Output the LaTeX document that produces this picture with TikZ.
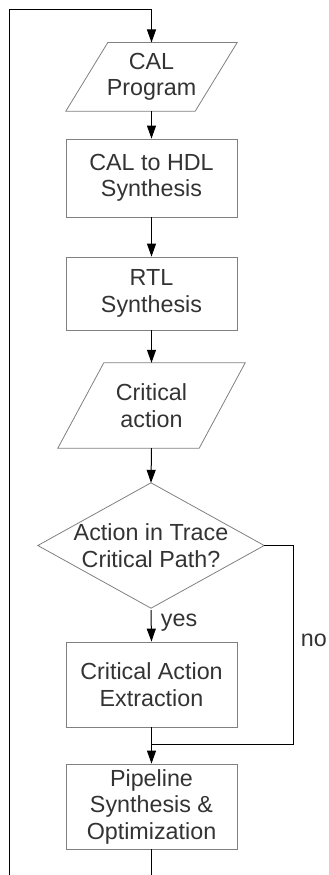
\documentclass[tikz,border=0pt]{standalone}
\usepackage{fontspec}
\setmainfont{Liberation Sans}
\usetikzlibrary{arrows.meta,calc}
\definecolor{ink}{HTML}{333333}
\definecolor{frame}{HTML}{808080}
\tikzset{
  x=1pt, y=-1pt,
  label text/.style={text=ink, font=\fontsize{23.3}{26.5}\selectfont},
  stepbox/.style={label text, draw=frame, line width=0.8pt, align=center,
                  minimum width=171pt, inner sep=0pt},
  ghost/.style={label text, align=center, inner sep=0pt},
  outline/.style={draw=frame, line width=0.8pt},
  flow/.style={draw=black, line width=1pt},
  flowarrow/.style={flow, -{Triangle[length=13pt,width=9pt]}},
}
\begin{document}
\begin{tikzpicture}
\useasboundingbox (0,0) rectangle (329,875);

% --- process steps ---
\node[ghost, minimum width=171pt, minimum height=68.3pt] (cal) at (151.5,76.85) {CAL\\Program};
\node[stepbox, minimum height=78pt] (hdl) at (151.5,178) {CAL to HDL\\Synthesis};
\node[stepbox, minimum height=73pt] (rtl) at (151.5,293.5) {RTL\\Synthesis};
\node[ghost, minimum width=187pt, minimum height=85pt] (crit) at (151.5,405.5) {Critical\\action};
\node[ghost, minimum width=226pt, minimum height=125pt] (dec) at (151,545.5) {Action in Trace\\Critical Path?};
\node[stepbox, minimum height=85pt] (cae) at (151.5,684.5) {Critical Action\\Extraction};
\node[stepbox, minimum height=85pt] (pipe) at (151.5,806.5) {Pipeline\\Synthesis \&\\Optimization};

% --- input/output parallelograms and decision diamond ---
\draw[outline] ($(cal.north west)+(42,0)$) -- (cal.north east)
  -- ($(cal.south east)+(-42,0)$) -- (cal.south west) -- cycle;
\draw[outline] ($(crit.north west)+(46,0)$) -- (crit.north east)
  -- ($(crit.south east)+(-46,0)$) -- (crit.south west) -- cycle;
\draw[outline] (dec.north) -- (dec.east) -- (dec.south) -- (dec.west) -- cycle;

% --- branch labels ---
\node[label text, anchor=base west, inner sep=0pt] (yes) at (160.7,626) {yes};
\node[label text, anchor=base west, inner sep=0pt] (no) at (300.7,646.7) {no};

% --- routing points ---
\coordinate (join) at (151.5,744);
\coordinate (nocorner) at (293.3,744);
\coordinate (loopbottom) at (151.5,875);
\coordinate (leftbottom) at (9,875);
\coordinate (lefttop) at (9,10);
\coordinate (looptop) at (151.5,10);

% --- connectors ---
\draw[flowarrow] (cal) -- (hdl);
\draw[flowarrow] (hdl) -- (rtl);
\draw[flowarrow] (rtl) -- (crit.north);
\draw[flowarrow] (crit.south) -- (dec.north);
\draw[flowarrow] ($(dec.south)+(0,2)$) -- (cae.north);
\draw[flow] (cae.south) -- (join);
\draw[flow] (dec.east) -| (nocorner) -- (join);
\draw[flowarrow] (join) -- (pipe.north);
\draw[flow] (pipe.south) -- (loopbottom);
\draw[flow] (leftbottom) -- (lefttop) -- (looptop);
\draw[flowarrow] (looptop) -- (cal.north);
\end{tikzpicture}
\end{document}
